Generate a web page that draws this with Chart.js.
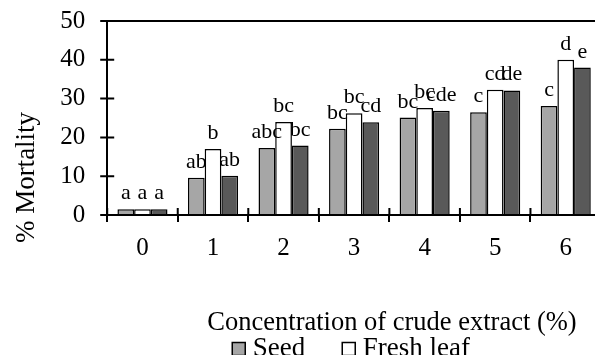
<!DOCTYPE html>
<html>
<head>
<meta charset="utf-8">
<style>
html, body { margin: 0; padding: 0; overflow: hidden; background: #fff; }
canvas { display: block; }
</style>
<script src="https://cdn.jsdelivr.net/npm/chart.js@4.4.1/dist/chart.umd.min.js"></script>
</head>
<body>
<canvas id="c" width="784" height="361"></canvas>
<script>
const categories = ['0', '1', '2', '3', '4', '5', '6'];
const seriesNames = ['Seed', 'Fresh leaf', 'Dried leaf'];
const seed = [1.5, 9.6, 17.3, 22.2, 25.1, 26.5, 28.1];
const freshLeaf = [1.5, 17.0, 24.0, 26.2, 27.6, 32.3, 40.0];
const driedLeaf = [1.5, 10.1, 17.9, 23.9, 26.9, 32.1, 38.0];
const seedLetters = ['a', 'ab', 'abc', 'bc', 'bc', 'c', 'c'];
const freshLetters = ['a', 'b', 'bc', 'bc', 'bc', 'cd', 'd'];
const driedLetters = ['a', 'ab', 'bc', 'cd', 'cde', 'de', 'e'];
const yMin = 0, yMax = 50, yStep = 10;
const yTitle = '% Mortality';
const xTitle = 'Concentration of crude extract (%)';

const FONT = "'Liberation Serif', 'Times New Roman', Times, serif";
Chart.defaults.font.family = FONT;
Chart.defaults.color = '#000';

const letterPlugin = {
  id: 'letters',
  afterDatasetsDraw(chart) {
    const ctx = chart.ctx;
    ctx.save();
    ctx.font = '22px ' + FONT;
    ctx.fillStyle = '#000';
    ctx.textAlign = 'center';
    ctx.textBaseline = 'alphabetic';
    chart.data.datasets.forEach((ds, di) => {
      chart.getDatasetMeta(di).data.forEach((el, i) => {
        ctx.fillText(ds.letters[i], el.x, el.y - 10);
      });
    });
    ctx.restore();
  }
};

const innerTicks = {
  id: 'innerTicks',
  afterDraw(chart) {
    const ctx = chart.ctx;
    const x = chart.scales.x, y = chart.scales.y;
    ctx.save();
    ctx.strokeStyle = '#000';
    ctx.lineWidth = 2;
    ctx.beginPath();
    y.ticks.forEach((t, i) => {
      const py = y.getPixelForTick(i);
      ctx.moveTo(y.right - 7, py);
      ctx.lineTo(y.right + 7, py);
    });
    const n = x.ticks.length;
    for (let i = 0; i <= n; i++) {
      const px = x.left + i * (x.width / n);
      ctx.moveTo(px, x.top);
      ctx.lineTo(px, x.top - 7);
    }
    ctx.stroke();
    ctx.restore();
  }
};

new Chart(document.getElementById('c'), {
  type: 'bar',
  data: {
    labels: categories,
    datasets: [
      { label: seriesNames[0], data: seed, letters: seedLetters, backgroundColor: '#a6a6a6', borderColor: '#000', borderWidth: 1.5, borderSkipped: 'start' },
      { label: seriesNames[1], data: freshLeaf, letters: freshLetters, backgroundColor: '#ffffff', borderColor: '#000', borderWidth: 1.5, borderSkipped: 'start' },
      { label: seriesNames[2], data: driedLeaf, letters: driedLetters, backgroundColor: '#595959', borderColor: '#000', borderWidth: 1.5, borderSkipped: 'start' }
    ]
  },
  options: {
    responsive: false,
    animation: false,
    events: [],
    layout: { padding: { top: 0, left: 0, right: 0, bottom: 6 } },
    datasets: { bar: { categoryPercentage: 0.71, barPercentage: 1.0 } },
    scales: {
      x: {
        position: 'bottom',
        offset: true,
        grid: { display: true, drawOnChartArea: false, tickLength: 7, tickColor: '#000', lineWidth: 2, offset: true, z: 1 },
        border: { display: true, color: '#000', width: 2, z: 1 },
        ticks: { font: { size: 25 }, color: '#000', padding: 11, maxRotation: 0 }
      },
      y: {
        position: 'left',
        min: yMin, max: yMax,
        afterFit: s => { s.width = 64; },
        grid: {
          display: true,
          tickLength: 22,
          tickColor: 'rgba(0,0,0,0)',
          lineWidth: 2,
          color: c => (c.tick && c.tick.value === yMax) ? '#000' : 'rgba(0,0,0,0)',
          z: 1
        },
        border: { display: true, color: '#000', width: 2, z: 1 },
        ticks: { stepSize: yStep, font: { size: 25 }, color: '#000', padding: 0 }
      },
      xTop: {
        type: 'category', position: 'top', display: true,
        grid: { display: false }, border: { display: false }, ticks: { display: false },
        afterFit: s => { s.height = 21; }
      },
      yRight: {
        type: 'linear', position: 'right', display: true,
        grid: { display: false }, border: { display: false }, ticks: { display: false },
        afterFit: s => { s.width = 183; }
      }
    },
    plugins: {
      title: {
        display: true, text: yTitle, position: 'left', fullSize: true,
        font: { size: 27, weight: 'normal', lineHeight: 1.2 }, color: '#000',
        padding: { top: 10.8, bottom: 0 }
      },
      subtitle: {
        display: true, text: xTitle, position: 'bottom', fullSize: true, weight: 100,
        font: { size: 26.5, weight: 'normal', lineHeight: 1.2 }, color: '#000',
        padding: { top: 33.6, bottom: -46.9 }
      },
      legend: {
        display: true, position: 'bottom', fullSize: false, weight: 1000, maxHeight: 62.5,
        labels: {
          filter: item => item.datasetIndex < 2,
          usePointStyle: true, pointStyle: 'rect',
          boxWidth: 1, boxHeight: 13, padding: 43,
          font: { size: 27 }, color: '#000'
        }
      },
      tooltip: { enabled: false }
    }
  },
  plugins: [letterPlugin, innerTicks]
});
</script>
</body>
</html>
